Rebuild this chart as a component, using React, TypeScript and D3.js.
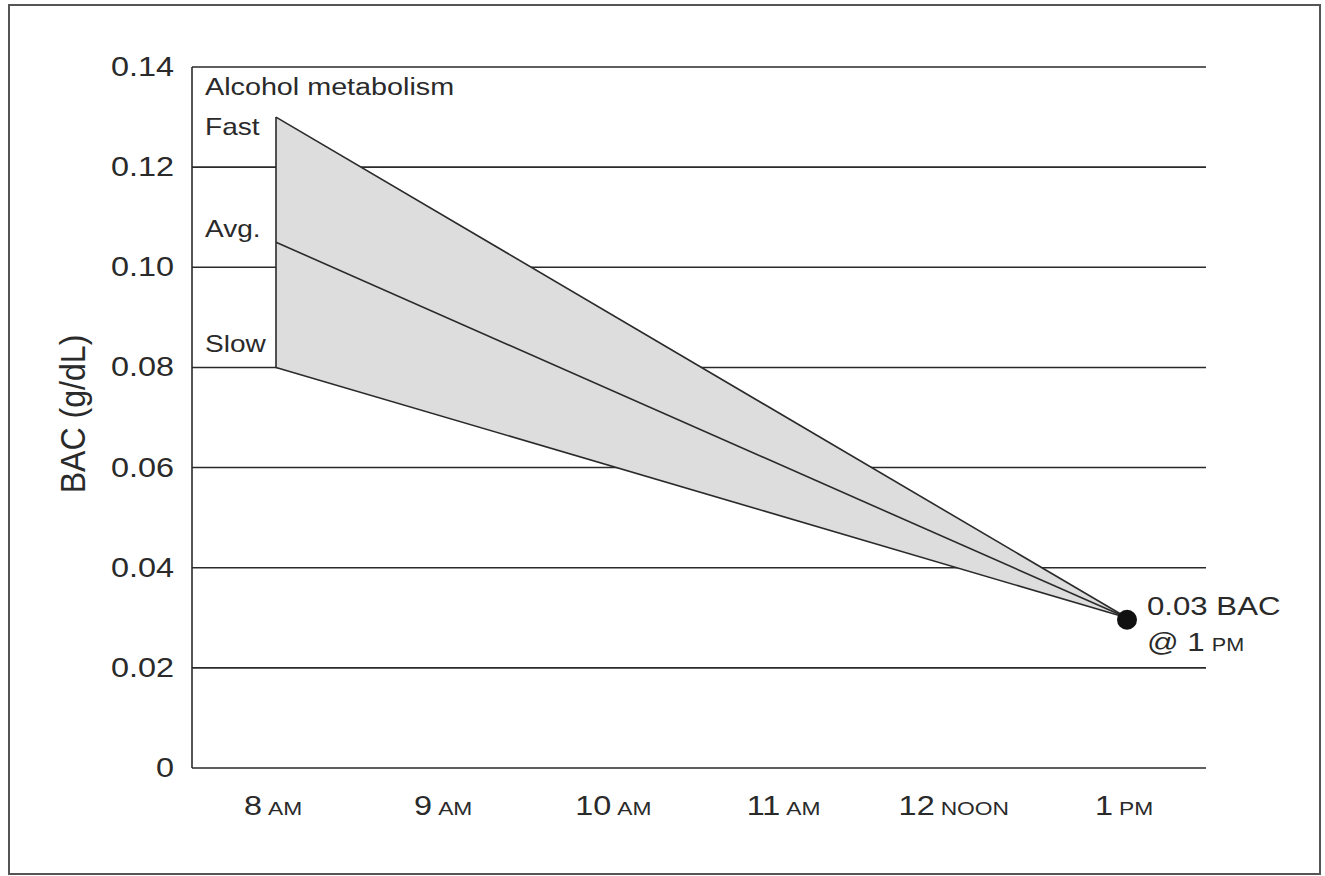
import React from "react";
import * as d3 from "d3";

const hours = [8, 9, 10, 11, 12, 13];
const hourNums = ["8", "9", "10", "11", "12", "1"];
const hourSuffix = ["AM", "AM", "AM", "AM", "NOON", "PM"];
const yTicks = [0, 0.02, 0.04, 0.06, 0.08, 0.1, 0.12, 0.14];
const yTickLabels = ["0", "0.02", "0.04", "0.06", "0.08", "0.10", "0.12", "0.14"];
const rateNames = ["Fast", "Avg.", "Slow"];
const startBAC = [0.13, 0.105, 0.08];
const startHour = 8;
const endHour = 13;
const endBAC = 0.03;

const W = 1325;
const H = 876;

export default function App() {
  const x = d3.scaleLinear().domain([8, 13]).range([276, 1127]);
  const y = d3.scaleLinear().domain([0, 0.14]).range([768, 67]);
  const plotLeft = 192;
  const plotRight = 1206;

  const bandArea = d3
    .area<[number, number, number]>()
    .x((d) => x(d[0]))
    .y0((d) => y(d[1]))
    .y1((d) => y(d[2]));
  const bandPath = bandArea([
    [startHour, startBAC[0], startBAC[2]],
    [endHour, endBAC, endBAC],
  ]) as string;

  const line = d3
    .line<[number, number]>()
    .x((d) => x(d[0]))
    .y((d) => y(d[1]));

  const font = "'Liberation Sans', Arial, Helvetica, sans-serif";
  const ink = "#2a2a2a";
  const sx = 1.2;

  return (
    <svg
      width={W}
      height={H}
      style={{ position: "absolute", left: 0, top: 0, background: "#fff" }}
      fontFamily={font}
    >
      <rect x={9} y={5} width={1311} height={869} fill="#fff" stroke="#555" strokeWidth={2} />

      {/* gridlines */}
      {yTicks.map((t) => (
        <line
          key={"g" + t}
          x1={plotLeft}
          x2={plotRight}
          y1={y(t)}
          y2={y(t)}
          stroke={ink}
          strokeWidth={1.6}
        />
      ))}
      <line x1={plotLeft} x2={plotLeft} y1={y(0.14)} y2={y(0)} stroke={ink} strokeWidth={1.6} />

      {/* band */}
      <path d={bandPath} fill="#dddddd" stroke="none" />
      {startBAC.map((b, i) => (
        <path
          key={"l" + i}
          d={line([
            [startHour, b],
            [endHour, endBAC],
          ]) as string}
          fill="none"
          stroke={ink}
          strokeWidth={1.6}
        />
      ))}
      <line
        x1={x(startHour)}
        x2={x(startHour)}
        y1={y(startBAC[0])}
        y2={y(startBAC[2])}
        stroke={ink}
        strokeWidth={1.6}
      />
      <circle cx={x(endHour)} cy={y(endBAC) + 2} r={10} fill="#111" />

      {/* y tick labels */}
      {yTicks.map((t, i) => (
        <text
          key={"yt" + t}
          transform={`translate(174,${y(t) + 9}) scale(${sx},1)`}
          textAnchor="end"
          fontSize={27}
          fill={ink}
        >
          {yTickLabels[i]}
        </text>
      ))}

      {/* x tick labels */}
      {hours.map((h, i) => (
        <text
          key={"xt" + h}
          transform={`translate(${x(h) - 3},815) scale(${sx},1)`}
          textAnchor="middle"
          fontSize={27}
          fill={ink}
        >
          {hourNums[i]}
          <tspan fontSize={19} dx={5}>
            {hourSuffix[i]}
          </tspan>
        </text>
      ))}

      {/* y axis title */}
      <text
        transform={`translate(85,414) rotate(-90) scale(1.07,1.15)`}
        textAnchor="middle"
        fontSize={30}
        fill={ink}
      >
        BAC (g/dL)
      </text>

      {/* legend labels */}
      <text transform={`translate(205,95) scale(1.25,1)`} fontSize={23} fill={ink}>
        Alcohol metabolism
      </text>
      {rateNames.map((n, i) => (
        <text
          key={"rn" + n}
          transform={`translate(205,${y(startBAC[i]) + [18, -5, -15][i]}) scale(1.22,1)`}
          fontSize={23}
          fill={ink}
        >
          {n}
        </text>
      ))}

      {/* end annotation */}
      <text transform={`translate(1147,615) scale(${sx},1)`} fontSize={26} fill={ink}>
        0.03 BAC
      </text>
      <text transform={`translate(1147,651) scale(${sx},1)`} fontSize={26} fill={ink}>
        @ 1<tspan fontSize={18} dx={6}>PM</tspan>
      </text>
    </svg>
  );
}
